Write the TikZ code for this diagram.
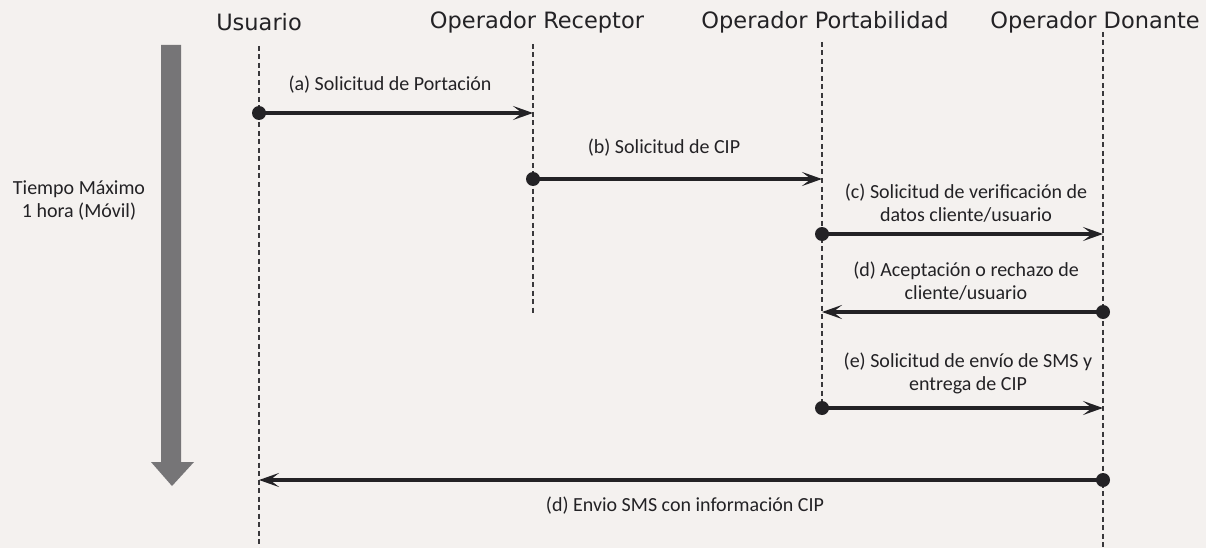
\documentclass[tikz,border=0pt]{standalone}
\usepackage{fontspec}
\setmainfont{Carlito}
\newfontfamily\hdrfont{DejaVu Sans}
\usetikzlibrary{arrows.meta}
\definecolor{paper}{HTML}{F4F1EF}
\definecolor{ink}{HTML}{232225}
\definecolor{timegray}{HTML}{767577}
\begin{document}
\begin{tikzpicture}[x=1pt,y=-1pt,
  hdr/.style={font=\hdrfont\fontsize{22.5}{26}\selectfont, text=ink, inner sep=0pt},
  lbl/.style={font=\fontsize{20}{23}\selectfont, text=ink, align=center, inner sep=0pt},
  lifeline/.style={draw=ink!90, line width=1.5pt, dash pattern=on 5pt off 3.5pt},
  msg/.style={draw=ink, line width=4.2pt, -{Stealth[length=20pt,width=14pt,inset=9pt]}},
  dot/.style={circle, fill=ink, inner sep=0pt, minimum size=14pt},
  timearrow/.style={fill=timegray}]
\fill[paper] (0,0) rectangle (1206,548);
\useasboundingbox (0,0) rectangle (1206,548);

% headers
\node[hdr] (hU) at (259,22) {Usuario};
\node[hdr] (hR) at (537,22) {Operador Receptor};
\node[hdr] (hP) at (825,22) {Operador Portabilidad};
\node[hdr, anchor=east] (hD) at (1200,22) {Operador Donante};

% lifelines
\coordinate (uT) at (259,46);  \coordinate (uB) at (259,548);
\coordinate (rT) at (533,44);  \coordinate (rB) at (533,313);
\coordinate (pT) at (822,42);  \coordinate (pB) at (822,414);
\coordinate (dT) at (1103,32); \coordinate (dB) at (1103,548);
\draw[lifeline] (uT) -- (uB);
\draw[lifeline] (rT) -- (rB);
\draw[lifeline] (pT) -- (pB);
\draw[lifeline] (dT) -- (dB);

% time arrow
\fill[timearrow] (161,45) -- (181,45) -- (181,462) -- (194,462) -- (172,486) -- (151,462) -- (161,462) -- cycle;
\node[lbl] (tm) at (79,201) {Tiempo Máximo\\1 hora (Móvil)};

% (a)
\node[dot] (a1) at (259,113) {};
\coordinate (a2) at (533,113);
\draw[msg] (a1.center) -- (a2);
\node[lbl] (la) at (390,85) {(a) Solicitud de Portación};

% (b)
\node[dot] (b1) at (533,179) {};
\coordinate (b2) at (822,179);
\draw[msg] (b1.center) -- (b2);
\node[lbl] (lb) at (664,148) {(b) Solicitud de CIP};

% (c)
\node[dot] (c1) at (822,234) {};
\coordinate (c2) at (1103,234);
\draw[msg] (c1.center) -- (c2);
\node[lbl] (lc) at (966,203) {(c) Solicitud de verificación de\\datos cliente/usuario};

% (d)
\node[dot] (d1) at (1103,312) {};
\coordinate (d2) at (822,312);
\draw[msg] (d1.center) -- (d2);
\node[lbl] (ld) at (966,281) {(d) Aceptación o rechazo de\\cliente/usuario};

% (e)
\node[dot] (e1) at (822,408) {};
\coordinate (e2) at (1103,408);
\draw[msg] (e1.center) -- (e2);
\node[lbl] (le) at (968,373) {(e) Solicitud de envío de SMS y\\entrega de CIP};

% (f)
\node[dot] (f1) at (1103,480) {};
\coordinate (f2) at (259,480);
\draw[msg] (f1.center) -- (f2);
\node[lbl] (lf) at (685,506) {(d) Envio SMS con información CIP};
\end{tikzpicture}
\end{document}
